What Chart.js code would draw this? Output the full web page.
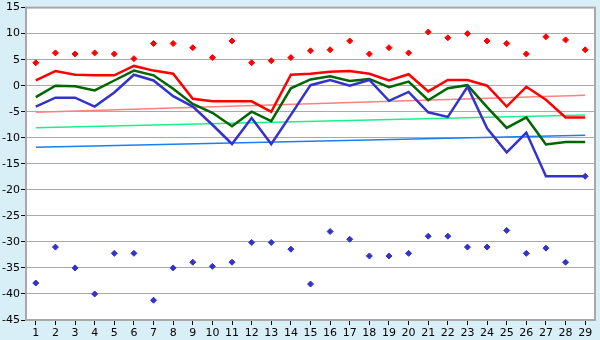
<!DOCTYPE html>
<html>
<head>
<meta charset="utf-8">
<script src="https://cdn.jsdelivr.net/npm/chart.js@4/dist/chart.umd.min.js"></script>
<style>
    html, body { margin: 0; padding: 0; background: #d9eff7; }
    #wrap { width: 600px; height: 340px; }
</style>
</head>
<body>
<div id="wrap"><canvas id="chart" width="600" height="340"></canvas></div>
<script>
// Day of month
const days = ['1', '2', '3', '4', '5', '6', '7', '8', '9', '10', '11', '12', '13', '14', '15',
    '16', '17', '18', '19', '20', '21', '22', '23', '24', '25', '26', '27', '28', '29'];

// Daily temperatures (°C)
const maxTemp = [1.0, 2.8, 2.1, 2.0, 2.0, 3.8, 2.9, 2.3, -2.5, -3.0, -3.0, -3.0, -5.0, 2.1, 2.3,
    2.7, 2.8, 2.3, 1.0, 2.2, -1.1, 1.1, 1.1, 0.0, -4.0, -0.2, -2.7, -6.1, -6.1];
const meanTemp = [-2.2, 0.0, -0.1, -0.9, 1.0, 2.9, 2.0, -0.6, -3.5, -5.2, -7.8, -5.0, -6.8, -0.5, 1.2,
    1.8, 0.9, 1.3, -0.3, 0.8, -2.8, -0.5, 0.1, -4.1, -8.1, -6.1, -11.3, -10.8, -10.8];
const minTemp = [-4.0, -2.3, -2.3, -4.0, -1.3, 2.1, 1.0, -2.0, -4.0, -7.5, -11.2, -6.2, -11.2, -5.6, 0.1,
    1.1, 0.0, 1.1, -2.9, -1.2, -5.1, -6.0, -0.2, -8.2, -12.8, -9.0, -17.4, -17.4, -17.4];

// Record extremes per day
const maxRecord = [4.4, 6.3, 6.1, 6.3, 6.1, 5.2, 8.1, 8.1, 7.3, 5.4, 8.6, 4.4, 4.8, 5.4, 6.7,
    6.9, 8.6, 6.1, 7.3, 6.3, 10.3, 9.2, 10.0, 8.6, 8.1, 6.1, 9.4, 8.8, 6.9];
const minRecord = [-37.9, -31.0, -35.0, -40.0, -32.2, -32.2, -41.2, -35.0, -33.9, -34.7, -33.9, -30.1, -30.1, -31.4, -38.1,
    -28.0, -29.5, -32.7, -32.7, -32.2, -28.9, -28.9, -31.0, -31.0, -27.8, -32.2, -31.2, -33.9, -17.4];

// Normal (trend) lines: value on first and last day
const maxNormal = [-5.1, -1.85];
const meanNormal = [-8.1, -5.65];
const minNormal = [-11.8, -9.5];

// y axis
const yMin = -45;
const yMax = 15;
const yStep = 5;

// trend lines only have end points, gaps are spanned
function endPoints(pair) {
    return days.map((_, i) => i === 0 ? pair[0] : (i === days.length - 1 ? pair[1] : null));
}

// paint blue page + white plot area + border
const frame = {
    id: 'frame',
    beforeDraw(c) {
        const { ctx, chartArea: a } = c;
        ctx.save();
        ctx.fillStyle = '#d9eff7';
        ctx.fillRect(0, 0, c.width, c.height);
        ctx.fillStyle = '#ffffff';
        ctx.fillRect(a.left, a.top, a.right - a.left, a.bottom - a.top);
        ctx.restore();
    },
    afterDatasetsDraw(c) {
        const { ctx, chartArea: a } = c;
        ctx.save();
        ctx.strokeStyle = '#a8a8a8';
        ctx.lineWidth = 2;
        ctx.strokeRect(a.left, a.top, a.right - a.left, a.bottom - a.top);
        ctx.restore();
    }
};

const lineStyle = (color, width, order) => ({
    borderColor: color,
    backgroundColor: color,
    borderWidth: width,
    pointRadius: 0,
    tension: 0,
    fill: false,
    order: order
});

const dotStyle = (color, order) => ({
    borderColor: color,
    backgroundColor: color,
    showLine: false,
    pointStyle: 'rectRot',
    pointRadius: 3,
    borderWidth: 1,
    order: order
});

let chart;
try {
    const ctx = document.getElementById('chart');
    if (!ctx) throw new Error('Chart canvas element not found');

    chart = new Chart(ctx.getContext('2d'), {
        type: 'line',
        data: {
            labels: days,
            datasets: [
                { label: 'max normal', data: endPoints(maxNormal), spanGaps: true, ...lineStyle('#ff8080', 1.5, 9) },
                { label: 'mean normal', data: endPoints(meanNormal), spanGaps: true, ...lineStyle('#1af08a', 1.5, 8) },
                { label: 'min normal', data: endPoints(minNormal), spanGaps: true, ...lineStyle('#1a7ff0', 1.5, 7) },
                { label: 'max', data: maxTemp, ...lineStyle('#ff0000', 2.5, 6) },
                { label: 'mean', data: meanTemp, ...lineStyle('#006600', 2.5, 5) },
                { label: 'min', data: minTemp, ...lineStyle('#3333cc', 2.5, 4) },
                { label: 'max record', data: maxRecord, ...dotStyle('#ff0000', 2) },
                { label: 'min record', data: minRecord, ...dotStyle('#3333cc', 1) }
            ]
        },
        options: {
            responsive: false,
            animation: false,
            layout: { padding: { top: 5, right: 5, left: 0, bottom: 0 } },
            plugins: {
                legend: { display: false },
                tooltip: { enabled: false }
            },
            scales: {
                x: {
                    offset: true,
                    afterFit: (s) => { s.height = 20; },
                    grid: {
                        offset: false,
                        drawOnChartArea: false,
                        tickLength: 5,
                        tickColor: '#000'
                    },
                    border: { color: '#a8a8a8', width: 2 },
                    ticks: {
                        color: '#000',
                        padding: 2,
                        maxRotation: 0,
                        autoSkip: false,
                        font: { family: 'DejaVu Sans', size: 11 }
                    }
                },
                y: {
                    min: yMin,
                    max: yMax,
                    afterFit: (s) => { s.width = 26; },
                    grid: {
                        color: '#aaaaaa',
                        lineWidth: 1,
                        tickLength: 5,
                        tickColor: '#000'
                    },
                    border: { color: '#a8a8a8', width: 2 },
                    ticks: {
                        stepSize: yStep,
                        color: '#000',
                        padding: 1,
                        font: { family: 'DejaVu Sans', size: 11 }
                    }
                }
            }
        },
        plugins: [frame]
    });
} catch (error) {
    console.error('Error initializing chart:', error);
}
</script>
</body>
</html>
